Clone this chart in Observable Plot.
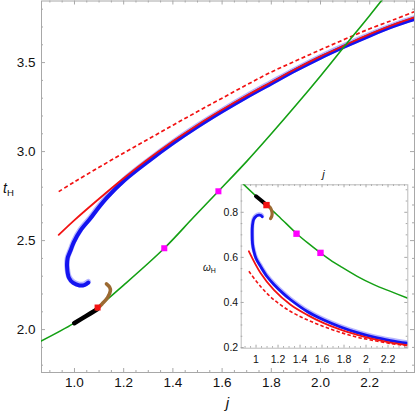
<!DOCTYPE html>
<html><head><meta charset="utf-8">
<script src="https://cdn.jsdelivr.net/npm/d3@7"></script>
<script src="https://cdn.jsdelivr.net/npm/@observablehq/plot@0.6"></script>
<style>
body{margin:0;background:#fff;}
#wrap{position:relative;width:415px;height:411px;font-family:"Liberation Sans",Arial,sans-serif;}
#main{position:absolute;left:0;top:0;width:415px;}
#inset{position:absolute;left:195px;top:165px;width:215px;}
svg{overflow:visible;}
</style></head><body><div id="wrap"><div id="main"></div><div id="inset"></div></div>
<script>
// ---------- main panel data (j, t_H) ----------
const greenJ = [0.862, 0.997, 1.094, 1.2, 1.365, 1.484, 1.585, 1.7, 1.8, 1.9, 2.0, 2.1, 2.2, 2.3];
const greenT = [1.934, 2.035, 2.125, 2.25, 2.457, 2.631, 2.777, 2.945, 3.10, 3.26, 3.425, 3.596, 3.765, 3.94];
const redJ = [0.936, 1.0, 1.1, 1.2, 1.3, 1.4, 1.5, 1.6, 1.7, 1.8, 1.9, 2.0, 2.1, 2.2, 2.3, 2.383];
const redT = [2.532, 2.615, 2.735, 2.85, 2.958, 3.058, 3.15, 3.235, 3.315, 3.39, 3.465, 3.535, 3.598, 3.66, 3.715, 3.755];
const dashJ = [0.936, 1.0, 1.1, 1.2, 1.3, 1.4, 1.5, 1.6, 1.7, 1.8, 1.9, 2.0, 2.1, 2.2, 2.3, 2.383];
const dashT = [2.775, 2.83, 2.912, 2.992, 3.07, 3.148, 3.225, 3.30, 3.375, 3.447, 3.51, 3.572, 3.632, 3.69, 3.742, 3.787];
const blueJ = [1.056, 1.04, 1.02, 0.995, 0.978, 0.970, 0.972, 0.984, 0.997, 1.024, 1.065, 1.092, 1.133, 1.2, 1.3, 1.4, 1.5, 1.6, 1.7, 1.8, 1.9, 2.0, 2.1, 2.2, 2.3, 2.383];
const blueT = [2.264, 2.250, 2.248, 2.262, 2.29, 2.35, 2.40, 2.444, 2.49, 2.556, 2.625, 2.675, 2.743, 2.835, 2.945, 3.047, 3.14, 3.226, 3.307, 3.383, 3.458, 3.528, 3.592, 3.652, 3.707, 3.745];
const blackJ = [0.999, 1.045, 1.092];
const blackT = [2.036, 2.074, 2.114];
const brownJ = [1.092, 1.112, 1.135, 1.146, 1.143, 1.130];
const brownT = [2.116, 2.144, 2.181, 2.219, 2.238, 2.257];
const redSqJ = [1.094], redSqT = [2.124];
const magJ = [1.365, 1.585], magT = [2.457, 2.777];
const xTicks = [1.0, 1.2, 1.4, 1.6, 1.8, 2.0, 2.2];
const yTicks = [2.0, 2.5, 3.0, 3.5];

// ---------- inset data (j, omega_H) ----------
const iGreenJ = [0.885, 1.0, 1.095, 1.2, 1.368, 1.47, 1.586, 1.677, 1.768, 1.92, 2.071, 2.223, 2.375];
const iGreenW = [0.925, 0.872, 0.831, 0.785, 0.706, 0.664, 0.62, 0.588, 0.56, 0.516, 0.479, 0.449, 0.42];
const iRedJ = [0.935, 1.041, 1.162, 1.314, 1.465, 1.616, 1.768, 1.92, 2.071, 2.223, 2.375];
const iRedW = [0.627, 0.531, 0.456, 0.39, 0.345, 0.308, 0.279, 0.256, 0.237, 0.222, 0.211];
const iDashJ = [0.935, 1.041, 1.162, 1.314, 1.465, 1.616, 1.768, 1.92, 2.071, 2.223, 2.375];
const iDashW = [0.538, 0.471, 0.412, 0.36, 0.323, 0.293, 0.267, 0.246, 0.231, 0.218, 0.208];
const iBlueJ = [1.056, 1.045, 1.025, 1.0, 0.978, 0.967, 0.965, 0.968, 0.98, 1.0, 1.041, 1.1, 1.162, 1.253, 1.314, 1.465, 1.616, 1.768, 1.92, 2.071, 2.223, 2.375];
const iBlueW = [0.780, 0.786, 0.787, 0.782, 0.768, 0.74, 0.70, 0.66, 0.627, 0.595, 0.56, 0.515, 0.48, 0.437, 0.412, 0.36, 0.322, 0.291, 0.266, 0.246, 0.231, 0.219];
const iBlackJ = [1.0, 1.05, 1.095];
const iBlackW = [0.871, 0.851, 0.832];
const iBrownJ = [1.095, 1.126, 1.145, 1.144, 1.132];
const iBrownW = [0.832, 0.823, 0.802, 0.784, 0.772];
const iRedSqJ = [1.095], iRedSqW = [0.832];
const iMagJ = [1.368, 1.586], iMagW = [0.705, 0.62];
const ixTicks = [1, 1.2, 1.4, 1.6, 1.8, 2, 2.2];
const iyTicks = [0.2, 0.4, 0.6, 0.8];

const pts = (X, Y) => X.map((x, i) => ({x, y: Y[i]}));
const C = {green: "#14a014", red: "#f21212", blue: "#1414f0", halo: "#a4a4ff", mag: "#ff00ff", brown: "#9c6a32", frame: "#a8a8a8"};

function frameTicks(xMaj, xMin, yMaj, yMin, iw, ih, maj, mn) {
  const s = {stroke: C.frame, strokeWidth: 1};
  return [
    Plot.tickX(xMaj, {x: d => d, insetTop: ih - maj, ...s}),
    Plot.tickX(xMaj, {x: d => d, insetBottom: ih - maj, ...s}),
    Plot.tickX(xMin, {x: d => d, insetTop: ih - mn, ...s}),
    Plot.tickX(xMin, {x: d => d, insetBottom: ih - mn, ...s}),
    Plot.tickY(yMaj, {y: d => d, insetRight: iw - maj, ...s}),
    Plot.tickY(yMaj, {y: d => d, insetLeft: iw - maj, ...s}),
    Plot.tickY(yMin, {y: d => d, insetRight: iw - mn, ...s}),
    Plot.tickY(yMin, {y: d => d, insetLeft: iw - mn, ...s})
  ];
}

// ---------- main ----------
const W = 415, H = 411, mL = 41, mR = 1, mT = 0.5, mB = 39;
const iwM = W - mL - mR, ihM = H - mT - mB;
const xMinor = d3.range(0.9, 2.38, 0.05).filter(v => xTicks.every(t => Math.abs(t - v) > 1e-6));
const yMinor = d3.range(1.8, 3.85, 0.1).filter(v => yTicks.every(t => Math.abs(t - v) > 1e-6));
const line = (X, Y, o) => Plot.line(pts(X, Y), {x: "x", y: "y", curve: "catmull-rom", clip: true, strokeLinecap: "round", strokeLinejoin: "round", ...o});

const mainSvg = Plot.plot({
  width: W, height: H, marginLeft: mL, marginRight: mR, marginTop: mT, marginBottom: mB,
  style: {fontFamily: '"Liberation Sans", Arial, sans-serif', background: "white", overflow: "visible"},
  x: {domain: [0.866, 2.382], label: null},
  y: {domain: [1.759, 3.846], label: null},
  marks: [
    ...frameTicks(xTicks, xMinor, yTicks, yMinor, iwM, ihM, 4, 2),
    Plot.frame({stroke: C.frame, strokeWidth: 1}),
    Plot.axisX({ticks: xTicks, tickSize: 0, tickPadding: 5, tickFormat: d3.format(".1f"), fontSize: 13.5, fill: "#111", label: null}),
    Plot.axisY({ticks: yTicks, tickSize: 0, tickPadding: 6, tickFormat: d3.format(".1f"), fontSize: 13.5, fill: "#111", label: null}),
    line(blueJ, blueT, {stroke: C.halo, strokeWidth: 5.5, dy: -1, strokeOpacity: 0.8}),
    line(blueJ, blueT, {stroke: C.blue, strokeWidth: 4}),
    line(dashJ, dashT, {stroke: C.red, strokeWidth: 1.7, strokeDasharray: "4,2.6", strokeLinecap: "butt"}),
    line(redJ, redT, {stroke: C.red, strokeWidth: 1.8}),
    line(greenJ, greenT, {stroke: C.green, strokeWidth: 1.6}),
    line(blackJ, blackT, {stroke: "black", strokeWidth: 4.5}),
    line(brownJ, brownT, {stroke: C.brown, strokeWidth: 3.6}),
    Plot.dot(pts(magJ, magT), {x: "x", y: "y", symbol: "square", r: 3.4, fill: C.mag}),
    Plot.dot(pts(redSqJ, redSqT), {x: "x", y: "y", symbol: "square", r: 3.4, fill: C.red})
  ]
});
document.getElementById("main").appendChild(mainSvg);
{
  const s = d3.select(mainSvg);
  s.append("text").attr("x", 227.5).attr("y", 408).attr("text-anchor", "middle")
    .attr("font-style", "italic").attr("font-size", 15).attr("fill", "#111").text("j");
  const th = s.append("text").attr("x", 3).attr("y", 193).attr("text-anchor", "start").attr("font-size", 14).attr("fill", "#111");
  th.append("tspan").attr("font-style", "italic").text("t");
  th.append("tspan").attr("font-size", 9.5).attr("dy", 3).text("H");
}

// ---------- inset ----------
const IW = 215, IH = 205, iL = 45.7, iR = 2.7, iT = 19.3, iB = 22.3;
const iwI = IW - iL - iR, ihI = IH - iT - iB;
const ixMinor = d3.range(0.9, 2.38, 0.05).filter(v => ixTicks.every(t => Math.abs(t - v) > 1e-6));
const iyMinor = d3.range(0.2, 0.93, 0.05).filter(v => iyTicks.every(t => Math.abs(t - v) > 1e-6));
const insetSvg = Plot.plot({
  width: IW, height: IH, marginLeft: iL, marginRight: iR, marginTop: iT, marginBottom: iB,
  style: {fontFamily: '"Liberation Sans", Arial, sans-serif', background: "transparent", overflow: "visible"},
  x: {domain: [0.865, 2.38], label: null},
  y: {domain: [0.197, 0.922], label: null},
  marks: [
    Plot.frame({fill: "white", stroke: "#bbbbbb", strokeWidth: 1}),
    Plot.axisY({ticks: [], tickSize: 0, label: null, stroke: "#cccccc", strokeWidth: 2.5}),
    ...frameTicks(ixTicks, ixMinor, iyTicks, iyMinor, iwI, ihI, 3, 1.6),
    Plot.axisX({ticks: ixTicks, tickSize: 0, tickPadding: 7, tickFormat: d => String(d), fontSize: 10.5, fill: "#111", label: null}),
    Plot.axisY({ticks: iyTicks, tickSize: 0, tickPadding: 3, tickFormat: d => String(d), fontSize: 10.5, fill: "#111", label: null}),
    line(iGreenJ, iGreenW, {stroke: C.green, strokeWidth: 1.5}),
    line(iBlueJ, iBlueW, {stroke: C.halo, strokeWidth: 4, dy: -1, strokeOpacity: 0.8}),
    line(iBlueJ, iBlueW, {stroke: C.blue, strokeWidth: 2.8}),
    line(iDashJ, iDashW, {stroke: C.red, strokeWidth: 1.6, strokeDasharray: "3.5,2.2", strokeLinecap: "butt"}),
    line(iRedJ, iRedW, {stroke: C.red, strokeWidth: 1.8}),
    line(iBlackJ, iBlackW, {stroke: "black", strokeWidth: 4}),
    line(iBrownJ, iBrownW, {stroke: C.brown, strokeWidth: 3.2}),
    Plot.dot(pts(iMagJ, iMagW), {x: "x", y: "y", symbol: "square", r: 3.6, fill: C.mag}),
    Plot.dot(pts(iRedSqJ, iRedSqW), {x: "x", y: "y", symbol: "square", r: 3.6, fill: C.red})
  ]
});
document.getElementById("inset").appendChild(insetSvg);
{
  const s = d3.select(insetSvg);
  s.append("text").attr("x", 128.5).attr("y", 13).attr("text-anchor", "middle")
    .attr("font-style", "italic").attr("font-size", 11).attr("fill", "#111").text("j");
  const w = s.append("text").attr("x", 8).attr("y", 106).attr("text-anchor", "start").attr("font-size", 10).attr("fill", "#111");
  w.append("tspan").attr("font-style", "italic").text("ω");
  w.append("tspan").attr("font-size", 7).attr("dy", 2).text("H");
}
</script></body></html>
